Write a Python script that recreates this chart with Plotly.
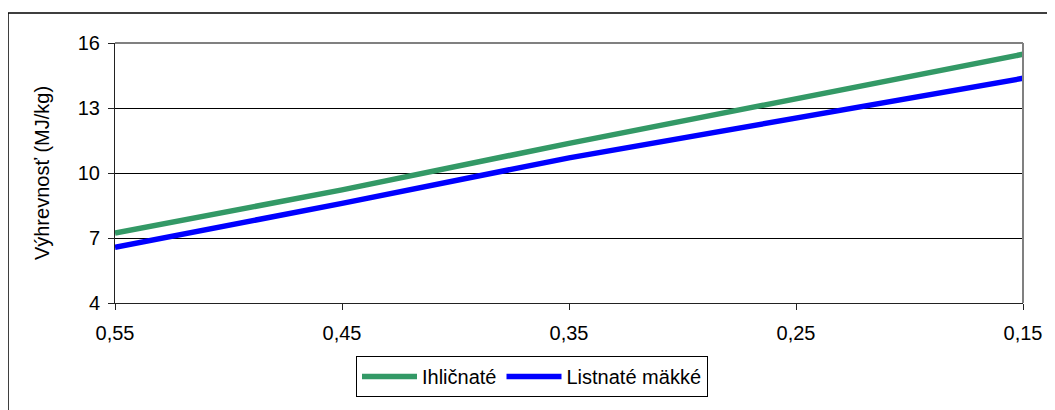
import plotly.graph_objects as go

x_vals = [0.55, 0.45, 0.35, 0.25, 0.15]
ihlicnate = [7.23, 9.22, 11.37, 13.4, 15.48]
listnate_makke = [6.57, 8.6, 10.7, 12.52, 14.37]
y_ticks = [4, 7, 10, 13, 16]

# page offset from default body margin
OFF = 8
W, H = 1055 - OFF, 410 - OFF
L, R, T, B = 115, 1023, 43, 303   # page coordinates of plot area
pw, ph = R - L, B - T

def px(x):
    return (x - L) / pw

def py(y):
    return (B - y) / ph

FONT = "Liberation Sans, Arial, sans-serif"

fig = go.Figure()
fig.add_trace(go.Scatter(x=x_vals, y=ihlicnate, mode="lines", name="Ihličnaté",
                         line=dict(color="#339966", width=5.5)))
fig.add_trace(go.Scatter(x=x_vals, y=listnate_makke, mode="lines", name="Listnaté mäkké",
                         line=dict(color="#0000FF", width=5.5)))

fig.update_layout(
    width=W, height=H,
    margin=dict(l=L - OFF, r=1055 - R, t=T - OFF, b=410 - B),
    paper_bgcolor="white", plot_bgcolor="white",
    separators=", ",
    font=dict(family=FONT, size=20, color="black"),
    showlegend=True,
    legend=dict(orientation="h", x=px(532), xanchor="center", y=py(356), yanchor="top",
                bordercolor="black", borderwidth=1, bgcolor="white",
                font=dict(size=20), itemwidth=55, tracegroupgap=0,
                traceorder="normal"),
    xaxis=dict(range=[0.55, 0.15], tickvals=x_vals, tickformat=".2f",
               showgrid=False, zeroline=False, showline=True, linecolor="#222",
               linewidth=1, ticks="outside", ticklen=6, tickcolor="#222",
               tickfont=dict(size=20), ticklabelstandoff=6),
    yaxis=dict(range=[4, 16], tickvals=y_ticks, showgrid=True, gridcolor="black",
               gridwidth=1, zeroline=False, showline=True, linecolor="#222",
               linewidth=1, ticks="outside", ticklen=6, tickcolor="#222",
               tickfont=dict(size=20), ticklabelstandoff=4,
               title=dict(text="Výhrevnosť (MJ/kg)", font=dict(size=20), standoff=22)),
    shapes=[
        dict(type="line", xref="paper", yref="paper", x0=0, x1=1, y0=1, y1=1,
             line=dict(color="#808080", width=2)),
        dict(type="line", xref="paper", yref="paper", x0=1, x1=1, y0=0, y1=1,
             line=dict(color="#808080", width=2)),
        dict(type="rect", xref="paper", yref="paper", x0=px(8), x1=px(1070),
             y0=py(430), y1=py(13), line=dict(color="black", width=1.5),
             fillcolor="rgba(0,0,0,0)", layer="below"),
    ],
)

fig.write_html("out.html")
